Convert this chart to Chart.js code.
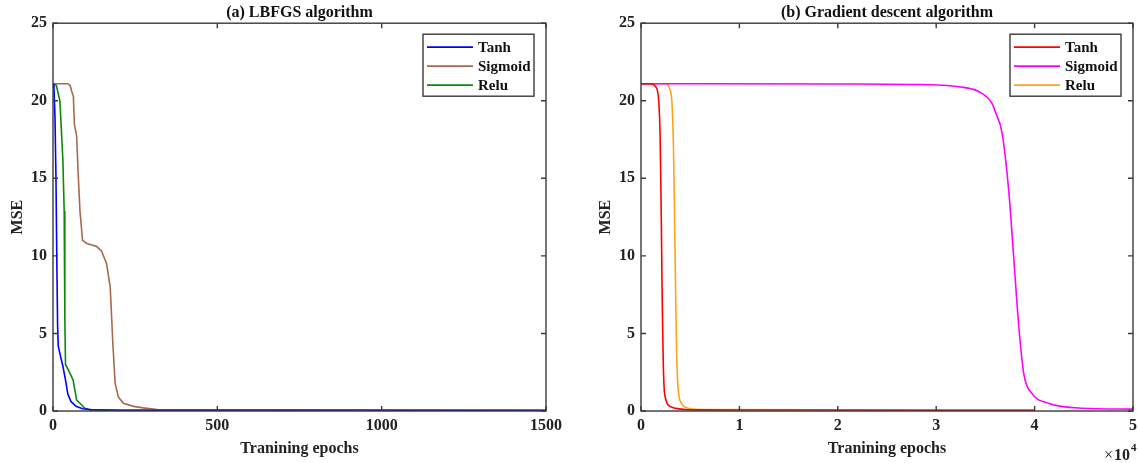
<!DOCTYPE html>
<html>
<head>
<meta charset="utf-8">
<script src="https://cdn.jsdelivr.net/npm/chart.js@4.4.0/dist/chart.umd.min.js"></script>
<style>
  html, body { margin: 0; padding: 0; background: #fff; overflow: hidden; }
  #wrap { position: relative; width: 1138px; height: 463px; }
  canvas { position: absolute; top: 0; }
  #c1 { left: 0; }
  #c2 { left: 588px; }
</style>
</head>
<body>
<div id="wrap">
  <canvas id="c1" width="588" height="463"></canvas>
  <canvas id="c2" width="550" height="463"></canvas>
</div>
<script>
// (a) LBFGS – epochs / MSE
const lbfgsTanhX = [0, 3, 6, 9, 12, 14, 16, 22, 30, 38, 45, 55, 70, 90, 120, 200, 500, 1500]
const lbfgsTanhY = [21.1, 20.8, 19, 15, 9, 5.5, 4.2, 3.6, 2.9, 2.0, 1.1, 0.6, 0.3, 0.15, 0.08, 0.05, 0.04, 0.03]
const lbfgsSigmoidX = [0, 45, 52, 57, 62, 65, 72, 77, 82, 90, 103, 133, 148, 163, 174, 182, 189, 199, 214, 245, 275, 316, 500, 1500]
const lbfgsSigmoidY = [21.1, 21.1, 21.0, 20.6, 20.3, 18.5, 17.7, 15.1, 12.9, 11.0, 10.8, 10.6, 10.3, 9.5, 8.0, 4.4, 1.8, 0.9, 0.5, 0.3, 0.2, 0.1, 0.07, 0.04]
const lbfgsReluX = [0, 10, 21, 30, 34, 36, 38, 50, 61, 72, 82, 97, 113, 200, 1500]
const lbfgsReluY = [21.1, 21.0, 20.0, 16.2, 12.9, 6.0, 3.0, 2.5, 2.0, 0.7, 0.5, 0.18, 0.07, 0.05, 0.04]

// (b) Gradient descent
const gdTanhX = [0, 1000, 1500, 1800, 1950, 2050, 2150, 2250, 2350, 2500, 2700, 3000, 3500, 4500, 6000, 10000, 40000]
const gdTanhY = [21.1, 21.1, 20.9, 20.0, 17.5, 13.0, 7.5, 3.5, 1.5, 0.8, 0.45, 0.28, 0.17, 0.1, 0.07, 0.06, 0.05]
const gdSigmoidX = [0, 20000, 28000, 29500, 32300, 34300, 35700, 36000, 36700, 37400, 37900, 38400, 38900, 39700, 41400, 44800, 50000]
const gdSigmoidY = [21.1, 21.08, 21.05, 21.03, 20.9, 20.6, 19.8, 19.3, 17.9, 14.0, 9.7, 5.4, 2.4, 1.15, 0.5, 0.18, 0.12]
const gdReluX = [0, 2500, 2900, 3150, 3300, 3400, 3500, 3600, 3700, 3850, 4100, 4500, 5200, 7000, 40000]
const gdReluY = [21.1, 21.1, 20.8, 19.8, 17.0, 13.0, 8.5, 4.5, 2.2, 1.0, 0.5, 0.25, 0.13, 0.09, 0.06]

const yTicks = [0, 5, 10, 15, 20, 25]
const lbfgsXTicks = [0, 500, 1000, 1500]
const gdXTicks = [0, 10000, 20000, 30000, 40000, 50000]

const serif = "'Liberation Serif', 'Times New Roman', serif"
const toPoints = (xs, ys) => xs.map((x, i) => ({ x, y: ys[i] }))

const boxFrame = {
  id: 'boxFrame',
  afterDatasetsDraw (chart) {
    const { ctx, chartArea: a, scales: { x, y } } = chart
    const len = 5
    ctx.save()
    ctx.strokeStyle = '#3a3a3a'
    ctx.lineWidth = 1.4
    ctx.beginPath()
    x.ticks.forEach(t => {
      const px = x.getPixelForValue(t.value)
      ctx.moveTo(px, a.bottom); ctx.lineTo(px, a.bottom - len)
      ctx.moveTo(px, a.top); ctx.lineTo(px, a.top + len)
    })
    y.ticks.forEach(t => {
      const py = y.getPixelForValue(t.value)
      ctx.moveTo(a.left, py); ctx.lineTo(a.left + len, py)
      ctx.moveTo(a.right, py); ctx.lineTo(a.right - len, py)
    })
    ctx.stroke()
    ctx.strokeRect(a.left, a.top, a.right - a.left, a.bottom - a.top)
    ctx.restore()
  }
}

const boxLegend = {
  id: 'boxLegend',
  afterDraw (chart) {
    const { ctx, chartArea: a } = chart
    const w = 111; const h = 62
    const bx = a.right - 12 - w; const by = a.top + 11
    ctx.save()
    ctx.fillStyle = '#fff'
    ctx.fillRect(bx, by, w, h)
    ctx.strokeStyle = '#3a3a3a'
    ctx.lineWidth = 1.4
    ctx.strokeRect(bx, by, w, h)
    ctx.font = 'bold 15px ' + serif
    ctx.textBaseline = 'middle'
    chart.data.datasets.forEach((ds, i) => {
      const ry = by + 13 + i * 19
      ctx.strokeStyle = ds.borderColor
      ctx.lineWidth = 1.8
      ctx.beginPath(); ctx.moveTo(bx + 4, ry); ctx.lineTo(bx + 50, ry); ctx.stroke()
      ctx.fillStyle = '#111'
      ctx.fillText(ds.label, bx + 55, ry + 1)
    })
    ctx.restore()
  }
}

// "×10^4" exponent marker under the right end of the x axis
const expLabel = {
  id: 'expLabel',
  afterDraw (chart) {
    const { ctx, chartArea: a } = chart
    const base = 460
    ctx.save()
    ctx.fillStyle = '#222'
    ctx.textBaseline = 'alphabetic'
    ctx.textAlign = 'right'
    ctx.font = 'bold 16px ' + serif
    const end = a.right - 3
    ctx.fillText('10', end, base)
    const w10 = ctx.measureText('10').width
    ctx.font = '16px ' + serif
    ctx.fillText('\u00d7', end - w10 - 1, base)
    ctx.textAlign = 'left'
    ctx.font = 'bold 11px ' + serif
    ctx.fillText('4', end + 1, base - 9)
    ctx.restore()
  }
}

const makeOptions = (title, xMax, xTicks, xFmt, padRight) => ({
  responsive: false,
  animation: false,
  layout: { padding: { left: 0, right: padRight, top: 0, bottom: 0 } },
  plugins: {
    legend: { display: false },
    tooltip: { enabled: false },
    title: {
      display: true,
      text: title,
      fullSize: false,
      color: '#111',
      font: { family: serif, size: 16, weight: 'bold' },
      padding: { top: 3, bottom: 1 }
    }
  },
  scales: {
    x: {
      type: 'linear',
      min: 0,
      max: xMax,
      afterFit: s => { s.height = 52; s.paddingLeft = 0; s.paddingRight = 0 },
      afterBuildTicks: s => { s.ticks = xTicks.map(v => ({ value: v })) },
      grid: { display: false, drawTicks: false },
      border: { display: false },
      ticks: {
        padding: 5,
        color: '#222',
        maxRotation: 0,
        font: { family: serif, size: 16, weight: 'bold' },
        callback: xFmt
      },
      title: {
        display: true,
        text: 'Tranining epochs',
        color: '#222',
        font: { family: serif, size: 16, weight: 'bold' },
        padding: { top: 0, bottom: 5 }
      }
    },
    y: {
      min: 0,
      max: 25,
      afterFit: s => { s.width = 53 },
      afterBuildTicks: s => { s.ticks = yTicks.map(v => ({ value: v })) },
      grid: { display: false, drawTicks: false },
      border: { display: false },
      ticks: {
        padding: 6,
        color: '#222',
        font: { family: serif, size: 16, weight: 'bold' }
      },
      title: {
        display: true,
        text: 'MSE',
        color: '#222',
        font: { family: serif, size: 16, weight: 'bold' },
        padding: { top: 8, bottom: 0 }
      }
    }
  }
})

const line = (label, color, xs, ys, smooth) => ({
  label,
  data: toPoints(xs, ys),
  borderColor: color,
  backgroundColor: color,
  borderWidth: 1.6,
  pointRadius: 0,
  fill: false,
  cubicInterpolationMode: smooth ? 'monotone' : 'default',
  tension: 0
})

new Chart(document.getElementById('c1'), { // eslint-disable-line
  type: 'line',
  data: {
    datasets: [
      line('Tanh', '#0000ff', lbfgsTanhX, lbfgsTanhY, false),
      line('Sigmoid', '#a8684e', lbfgsSigmoidX, lbfgsSigmoidY, false),
      line('Relu', '#0a8a0a', lbfgsReluX, lbfgsReluY, false)
    ]
  },
  options: makeOptions('(a) LBFGS algorithm', 1500, lbfgsXTicks, v => String(v), 42),
  plugins: [boxFrame, boxLegend]
})

new Chart(document.getElementById('c2'), { // eslint-disable-line
  type: 'line',
  data: {
    datasets: [
      line('Tanh', '#ff0000', gdTanhX, gdTanhY, true),
      line('Sigmoid', '#ff00ff', gdSigmoidX, gdSigmoidY, true),
      line('Relu', '#ffa21a', gdReluX, gdReluY, true)
    ]
  },
  options: makeOptions('(b) Gradient descent algorithm', 50000, gdXTicks, v => String(v / 10000), 5),
  plugins: [boxFrame, boxLegend, expLabel]
})
</script>
</body>
</html>
